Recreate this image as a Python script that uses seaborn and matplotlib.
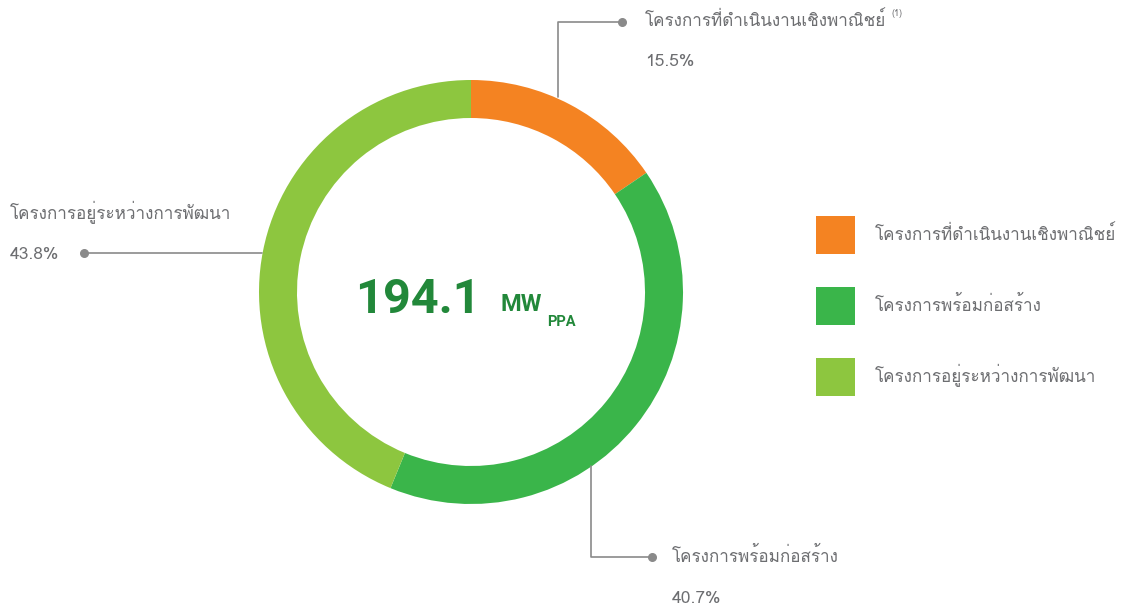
import matplotlib
matplotlib.use("Agg")
import matplotlib.pyplot as plt
from matplotlib import font_manager
from matplotlib.ft2font import FT2Font
from matplotlib.patches import Patch
import seaborn as sns

categories = ["โครงการที่ดำเนินงานเชิงพาณิชย์", "โครงการพร้อมก่อสร้าง", "โครงการอยู่ระหว่างการพัฒนา"]
shares = [15.5, 40.7, 43.8]
pct_labels = ["15.5%", "40.7%", "43.8%"]
colors = ["#F48322", "#3AB54A", "#8DC63F"]
total_value = "194.1"
total_unit = "MW"
total_sub = "PPA"

sns.set_theme(style="white")

# find a font that covers Thai
thai_fonts = []
for f in font_manager.fontManager.ttflist:
    try:
        cm = FT2Font(f.fname).get_charmap()
        if 0x0E01 in cm and f.name not in thai_fonts:
            thai_fonts.append(f.name)
    except Exception:
        pass
fam = thai_fonts[:1] + ["DejaVu Sans"]
plt.rcParams["font.family"] = fam

W, H = 1128, 605
fig = plt.figure(figsize=(W / 100, H / 100), dpi=100)
ax = fig.add_axes([0, 0, 1, 1])

cx, cy, R = 471, H - 292, 212
wedges, _ = ax.pie(shares, colors=colors, startangle=90, counterclock=False,
                   center=(cx, cy), radius=R, frame=True,
                   wedgeprops=dict(width=38, linewidth=0))
ax.set_xlim(0, W)
ax.set_ylim(0, H)
ax.axis("off")

grey = "#6d6e71"
line_c = "#8a8a8a"
fs_lab = 12.3
fs_pct = 12.5

# leader: commercial
ax.plot([558, 558, 622], [H - 97, H - 22, H - 22], color=line_c, lw=1.2)
ax.scatter([622], [H - 22], s=30, color=line_c, zorder=5)
ax.text(645, H - 21, categories[0], fontsize=fs_lab, color=grey, va="center")
ax.text(892, H - 14, "(1)", fontsize=6.5, color=grey, va="center")
ax.text(645, H - 62, pct_labels[0], fontsize=fs_pct, color=grey, va="center")

# leader: ready
ax.plot([591, 591, 652], [H - 466, H - 557, H - 557], color=line_c, lw=1.2)
ax.scatter([652], [H - 557], s=30, color=line_c, zorder=5)
ax.text(672, H - 556, categories[1], fontsize=fs_lab, color=grey, va="center")
ax.text(672, H - 599, pct_labels[1], fontsize=fs_pct, color=grey, va="center")

# leader: developing
ax.plot([84, 262], [H - 253, H - 253], color=line_c, lw=1.2)
ax.scatter([84], [H - 253], s=30, color=line_c, zorder=5)
ax.text(10, H - 212, categories[2], fontsize=fs_lab, color=grey, va="center")
ax.text(10, H - 255, pct_labels[2], fontsize=fs_pct, color=grey, va="center")

# center text
green = "#22883A"
ax.text(481, H - 313, total_value, fontsize=35, fontweight="bold", color=green,
        va="baseline", ha="right", family="Roboto")
ax.text(500, H - 311, total_unit, fontsize=17, fontweight="bold", color=green,
        va="baseline", ha="left", family="Roboto")
ax.text(547, H - 326, total_sub, fontsize=10.5, fontweight="bold", color=green,
        va="baseline", ha="left", family="Roboto")

handles = [Patch(facecolor=c, edgecolor="none") for c in colors]
fig.legend(handles, categories, loc="upper left",
           bbox_to_anchor=(816 / W, 1 - 216 / H), frameon=False,
           borderpad=0, borderaxespad=0, fontsize=fs_lab,
           handlelength=2.26, handleheight=3.09, handletextpad=1.2,
           labelspacing=1.89, labelcolor=grey)

fig.savefig("out.png", dpi=100, facecolor="white")
